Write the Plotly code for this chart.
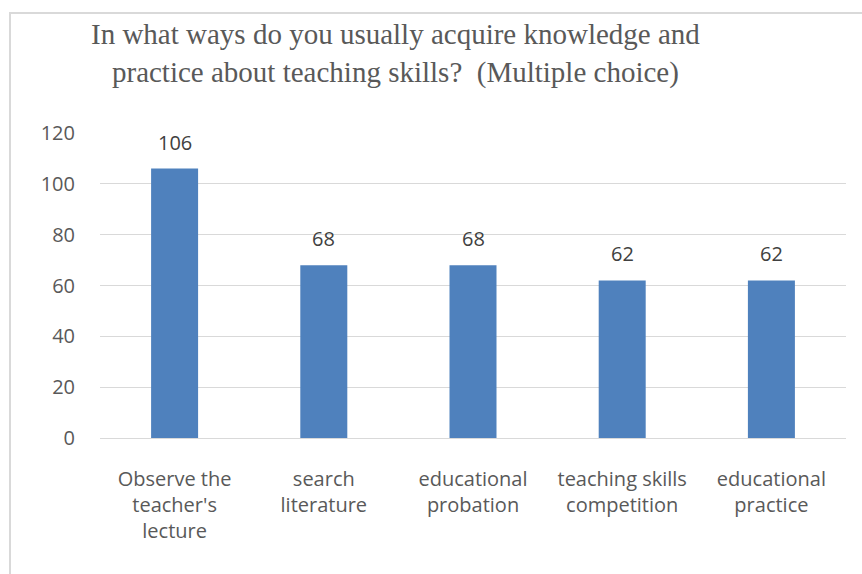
import plotly.graph_objects as go

categories = [
    "Observe the<br>teacher's<br>lecture",
    "search<br>literature",
    "educational<br>probation",
    "teaching skills<br>competition",
    "educational<br>practice",
]
counts = [106, 68, 68, 62, 62]
y_ticks = [0, 20, 40, 60, 80, 100, 120]

W, H = 862, 574
ML, MR, MT, MB = 100, 16, 133, 136
PW, PH = W - ML - MR, H - MT - MB


def px_x(p):
    return (p - ML) / PW


def px_y(p):
    return (H - MB - p) / PH


fig = go.Figure(
    go.Bar(
        x=categories,
        y=counts,
        marker=dict(color="#4F81BD", line=dict(width=0)),
        width=0.315,
        hoverinfo="skip",
    )
)

# value labels above each bar
for c, v in zip(categories, counts):
    fig.add_annotation(
        x=c, y=v, text=str(v), showarrow=False, yanchor="bottom", yshift=11,
        font=dict(family="Open Sans", size=20, color="#404040"),
    )

# chart title
fig.add_annotation(
    xref="paper", yref="paper", x=px_x(395), y=px_y(54),
    xanchor="center", yanchor="middle", showarrow=False,
    text="In what ways do you usually acquire knowledge and<br>practice about teaching skills?  (Multiple choice)",
    font=dict(family="Liberation Serif", size=29, color="#595959"),
)

# outer chart border
fig.add_shape(
    type="rect", xref="paper", yref="paper",
    x0=px_x(10), x1=px_x(W + 20), y0=px_y(H + 20), y1=px_y(13),
    line=dict(color="#D9D9D9", width=2), fillcolor="rgba(0,0,0,0)", layer="below",
)

fig.update_layout(
    width=W, height=H,
    margin=dict(l=ML, r=MR, t=MT, b=MB),
    paper_bgcolor="white", plot_bgcolor="white",
    showlegend=False,
    xaxis=dict(
        showgrid=False, showline=True, linecolor="#D9D9D9", linewidth=1,
        ticks="", ticklabelstandoff=23,
        tickfont=dict(family="Open Sans", size=20, color="#595959"),
        fixedrange=True,
    ),
    yaxis=dict(
        range=[0, 120], tickvals=y_ticks, showgrid=True, gridcolor="#D9D9D9",
        gridwidth=1, zeroline=False, showline=False, ticks="",
        ticklabelstandoff=24,
        tickfont=dict(family="Open Sans", size=20, color="#595959"),
        fixedrange=True,
    ),
)

fig.write_html("out.html")
